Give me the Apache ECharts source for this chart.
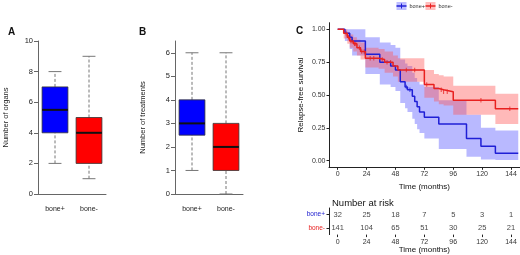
<!DOCTYPE html>
<html>
<head>
<meta charset="utf-8">
<script src="https://cdn.jsdelivr.net/npm/echarts@6/dist/echarts.min.js"></script>
<style>
html, body { margin: 0; padding: 0; background: #fff; }
#main { width: 520px; height: 255px; }
</style>
</head>
<body>
<div id="main"></div>
<script>
var groups = ['bone+', 'bone-'];
// box stats: min, q1, median, q3, max
var organsBox = [[2, 4, 5.5, 7, 8], [1, 2, 4, 5, 9]];
var treatBox = [[1, 2.5, 3, 4, 6], [0, 1, 2, 3, 6]];
var organTicks = [0, 2, 4, 6, 8, 10];
var treatTicks = [0, 1, 2, 3, 4, 5, 6];
var survTicks = [0, 0.25, 0.5, 0.75, 1];
var timeTicks = [0, 24, 48, 72, 96, 120, 144];

// Kaplan-Meier steps (time where the step starts, survival, CI low, CI high)
var bluTime = [0, 6, 10, 12, 23, 35, 44, 48, 52, 56, 58, 62, 64, 66, 68, 72, 84, 107, 119, 131];
var bluSurv = [1, 0.97, 0.94, 0.91, 0.81, 0.75, 0.72, 0.69, 0.60, 0.56, 0.54, 0.49, 0.45, 0.41, 0.37, 0.33, 0.28, 0.17, 0.11, 0.056];
var bluLow  = [1, 0.91, 0.85, 0.80, 0.66, 0.58, 0.56, 0.53, 0.44, 0.40, 0.37, 0.32, 0.28, 0.24, 0.21, 0.17, 0.09, 0.03, 0.01, 0.005];
var bluUp   = [1, 1, 1, 1, 0.94, 0.90, 0.88, 0.86, 0.77, 0.74, 0.72, 0.67, 0.63, 0.60, 0.58, 0.56, 0.46, 0.35, 0.25, 0.23];
var bluCens = [57, 60];

var redTime = [0, 5, 8, 10, 13, 16, 19, 23, 34, 39, 46, 50, 72, 80, 84, 88, 96, 131];
var redSurv = [1, 0.97, 0.94, 0.91, 0.89, 0.86, 0.83, 0.78, 0.77, 0.75, 0.72, 0.69, 0.58, 0.55, 0.54, 0.525, 0.46, 0.395];
var redLow  = [1, 0.93, 0.89, 0.86, 0.83, 0.80, 0.77, 0.71, 0.70, 0.67, 0.64, 0.60, 0.48, 0.45, 0.43, 0.42, 0.35, 0.28];
var redUp   = [1, 1, 0.98, 0.96, 0.94, 0.92, 0.90, 0.86, 0.85, 0.83, 0.80, 0.78, 0.69, 0.66, 0.65, 0.64, 0.57, 0.51];
var redCens = [7, 9, 11, 12, 14, 15, 18, 20, 22, 27, 30, 37, 41, 44, 57, 64, 74, 86, 88, 91, 119, 143];
var endTime = 150;

// number at risk
var riskBlue = [32, 25, 18, 7, 5, 3, 1];
var riskRed = [141, 104, 65, 51, 30, 25, 21];

var FONT = 'Liberation Sans';
var BLUE = '#1f1fd6', RED = '#e8201f';
var boxFill = ['#0000ff', '#ff0000'];

var chart = echarts.init(document.getElementById('main'));

function renderBox(params, api) {
    var i = api.value(0);
    var pMin = api.coord([i, api.value(1)]);
    var pQ1 = api.coord([i, api.value(2)]);
    var pMed = api.coord([i, api.value(3)]);
    var pQ3 = api.coord([i, api.value(4)]);
    var pMax = api.coord([i, api.value(5)]);
    var band = api.size([1, 0])[0];
    var bw = band * 0.76, cw = band * 0.38;
    var x = pMin[0];
    var dash = { stroke: '#777', lineWidth: 1, lineDash: [3, 2] };
    var solid = { stroke: '#777', lineWidth: 1 };
    return {
        type: 'group',
        children: [
            { type: 'line', shape: { x1: x, y1: pMin[1], x2: x, y2: pQ1[1] }, style: dash },
            { type: 'line', shape: { x1: x, y1: pQ3[1], x2: x, y2: pMax[1] }, style: dash },
            { type: 'line', shape: { x1: x - cw / 2, y1: pMin[1], x2: x + cw / 2, y2: pMin[1] }, style: solid },
            { type: 'line', shape: { x1: x - cw / 2, y1: pMax[1], x2: x + cw / 2, y2: pMax[1] }, style: solid },
            { type: 'rect', shape: { x: x - bw / 2, y: pQ3[1], width: bw, height: pQ1[1] - pQ3[1] },
              style: { fill: boxFill[i], stroke: '#333', lineWidth: 0.8 } },
            { type: 'line', shape: { x1: x - bw / 2, y1: pMed[1], x2: x + bw / 2, y2: pMed[1] },
              style: { stroke: '#111', lineWidth: 2 } }
        ]
    };
}

function boxData(stats) {
    return stats.map(function (s, i) { return [i].concat(s); });
}

function makeBand(times, low, up, color) {
    return {
        type: 'custom',
        xAxisIndex: 2, yAxisIndex: 2,
        silent: true,
        data: [[0, 0]],
        encode: { x: 0, y: 1 },
        renderItem: function (params, api) {
            var pts = [], n = times.length, k, x1;
            for (k = 0; k < n; k++) {
                x1 = k < n - 1 ? times[k + 1] : endTime;
                pts.push(api.coord([times[k], up[k]]));
                pts.push(api.coord([x1, up[k]]));
            }
            for (k = n - 1; k >= 0; k--) {
                x1 = k < n - 1 ? times[k + 1] : endTime;
                pts.push(api.coord([x1, low[k]]));
                pts.push(api.coord([times[k], low[k]]));
            }
            return { type: 'polygon', shape: { points: pts }, style: { fill: color } };
        }
    };
}

function stepData(times, surv) {
    var d = times.map(function (t, i) { return [t, surv[i]]; });
    d.push([endTime, surv[surv.length - 1]]);
    return d;
}

function survAt(times, surv, t) {
    var v = surv[0];
    for (var i = 0; i < times.length; i++) { if (times[i] <= t) v = surv[i]; }
    return v;
}

function censData(cens, times, surv) {
    return cens.map(function (t) { return [t, survAt(times, surv, t)]; });
}

var riskData = [];
timeTicks.forEach(function (t, i) {
    riskData.push([t, 0, riskBlue[i]]);
    riskData.push([t, 1, riskRed[i]]);
});

var boxAxisX = function (gi) {
    return {
        type: 'category', gridIndex: gi, data: groups,
        axisLine: { onZero: false, lineStyle: { color: '#666' } },
        axisTick: { alignWithLabel: true, length: 4, lineStyle: { color: '#666' } },
        axisLabel: { fontFamily: FONT, fontSize: 7, color: '#222', margin: 12 }
    };
};
var boxAxisY = function (gi, max, ticks, name, gap) {
    return {
        type: 'value', gridIndex: gi, min: 0, max: max,
        name: name, nameLocation: 'middle', nameGap: gap,
        nameTextStyle: { fontFamily: FONT, fontSize: 7.5, color: '#222' },
        splitLine: { show: false },
        axisLine: { show: true, onZero: false, lineStyle: { color: '#666' } },
        axisTick: { show: true, length: 4, lineStyle: { color: '#666' }, customValues: ticks },
        axisLabel: { fontFamily: FONT, fontSize: 7.5, color: '#222', margin: 5, customValues: ticks }
    };
};
var timeAxis = function (gi, gap) {
    return {
        type: 'value', gridIndex: gi, min: -7.2, max: 151.2,
        name: 'Time (months)', nameLocation: 'middle', nameGap: gap,
        nameTextStyle: { fontFamily: FONT, fontSize: 8, color: '#111' },
        splitLine: { show: false },
        axisLine: { onZero: false, lineStyle: { color: '#222' } },
        axisTick: { show: true, length: 2.5, lineStyle: { color: '#222' }, customValues: timeTicks },
        axisLabel: { fontFamily: FONT, fontSize: 7, color: '#333', margin: 3.5, customValues: timeTicks }
    };
};

var legendItem = function (x, color, fill, text) {
    return {
        type: 'group', left: x, top: 1,
        children: [
            { type: 'rect', shape: { x: 0, y: 0, width: 10, height: 8 }, style: { fill: fill } },
            { type: 'line', shape: { x1: 0, y1: 4, x2: 10, y2: 4 }, style: { stroke: color, lineWidth: 1.5 } },
            { type: 'line', shape: { x1: 5, y1: 1.5, x2: 5, y2: 6.5 }, style: { stroke: color, lineWidth: 1 } },
            { type: 'text', x: 13, y: 4, style: { text: text, font: '5.5px "' + FONT + '"', fill: '#333', verticalAlign: 'middle' } }
        ]
    };
};

var option = {
    animation: false,
    textStyle: { fontFamily: FONT },
    title: [
        { text: 'A', left: 3, top: 22, textStyle: { fontFamily: FONT, fontSize: 10, fontWeight: 'bold', color: '#111' } },
        { text: 'B', left: 134, top: 22, textStyle: { fontFamily: FONT, fontSize: 10, fontWeight: 'bold', color: '#111' } },
        { text: 'C', left: 291, top: 21, textStyle: { fontFamily: FONT, fontSize: 10, fontWeight: 'bold', color: '#111' } },
        { text: 'Number at risk', left: 327, top: 193, textStyle: { fontFamily: FONT, fontSize: 9.5, fontWeight: 'normal', color: '#111' } }
    ],
    graphic: [
        legendItem(394, BLUE, 'rgba(90,90,255,0.4)', 'bone+'),
        legendItem(423, RED, 'rgba(255,90,90,0.4)', 'bone-')
    ],
    grid: [
        { left: 38, top: 41, width: 68, height: 153 },
        { left: 175, top: 41, width: 68, height: 153 },
        { left: 329, top: 22.7, width: 190.7, height: 144.6 },
        { left: 329, top: 208, width: 190.7, height: 28 }
    ],
    xAxis: [
        boxAxisX(0),
        boxAxisX(1),
        timeAxis(2, 12),
        timeAxis(3, 9.5)
    ],
    yAxis: [
        boxAxisY(0, 10, organTicks, 'Number of organs', 28),
        boxAxisY(1, 6.5, treatTicks, 'Number of treatments', 28),
        {
            type: 'value', gridIndex: 2, min: -0.05, max: 1.05,
            name: 'Relapse-free survival', nameLocation: 'middle', nameGap: 24,
            nameTextStyle: { fontFamily: FONT, fontSize: 8, color: '#111' },
            splitLine: { show: false },
            axisLine: { show: true, onZero: false, lineStyle: { color: '#222' } },
            axisTick: { show: true, length: 2.5, lineStyle: { color: '#222' }, customValues: survTicks },
            axisLabel: { fontFamily: FONT, fontSize: 7, color: '#333', margin: 3.5, customValues: survTicks,
                formatter: function (v) { return v.toFixed(2); } }
        },
        {
            type: 'category', gridIndex: 3, data: groups, inverse: true,
            axisLine: { show: true, onZero: false, lineStyle: { color: '#222' } },
            axisTick: { show: true, alignWithLabel: true, length: 2.5, lineStyle: { color: '#222' } },
            axisLabel: {
                fontFamily: FONT, fontSize: 6.5, margin: 4,
                formatter: function (v, i) { return i === 0 ? '{b|' + v + '}' : '{r|' + v + '}'; },
                rich: { b: { color: '#2020d0', fontSize: 6.5 }, r: { color: '#e82020', fontSize: 6.5 } }
            }
        }
    ],
    series: [
        { type: 'custom', xAxisIndex: 0, yAxisIndex: 0, renderItem: renderBox, data: boxData(organsBox),
          encode: { x: 0, y: [1, 2, 3, 4, 5] } },
        { type: 'custom', xAxisIndex: 1, yAxisIndex: 1, renderItem: renderBox, data: boxData(treatBox),
          encode: { x: 0, y: [1, 2, 3, 4, 5] } },
        makeBand(bluTime, bluLow, bluUp, 'rgba(80,80,255,0.4)'),
        makeBand(redTime, redLow, redUp, 'rgba(255,80,80,0.4)'),
        { type: 'line', xAxisIndex: 2, yAxisIndex: 2, step: 'end', showSymbol: false,
          data: stepData(bluTime, bluSurv), lineStyle: { color: BLUE, width: 1.5 } },
        { type: 'line', xAxisIndex: 2, yAxisIndex: 2, step: 'end', showSymbol: false,
          data: stepData(redTime, redSurv), lineStyle: { color: RED, width: 1.5 } },
        { type: 'scatter', xAxisIndex: 2, yAxisIndex: 2, symbol: 'rect', symbolSize: [1, 4.5],
          itemStyle: { color: BLUE }, data: censData(bluCens, bluTime, bluSurv) },
        { type: 'scatter', xAxisIndex: 2, yAxisIndex: 2, symbol: 'rect', symbolSize: [1, 4.5],
          itemStyle: { color: RED }, data: censData(redCens, redTime, redSurv) },
        { type: 'scatter', xAxisIndex: 3, yAxisIndex: 3, symbolSize: 0, data: riskData,
          label: { show: true, position: 'inside', fontFamily: FONT, fontSize: 7.5, color: '#111',
                   formatter: function (p) { return p.value[2]; } } }
    ]
};

chart.setOption(option);
window.addEventListener('resize', function () { chart.resize(); });
</script>
</body>
</html>
